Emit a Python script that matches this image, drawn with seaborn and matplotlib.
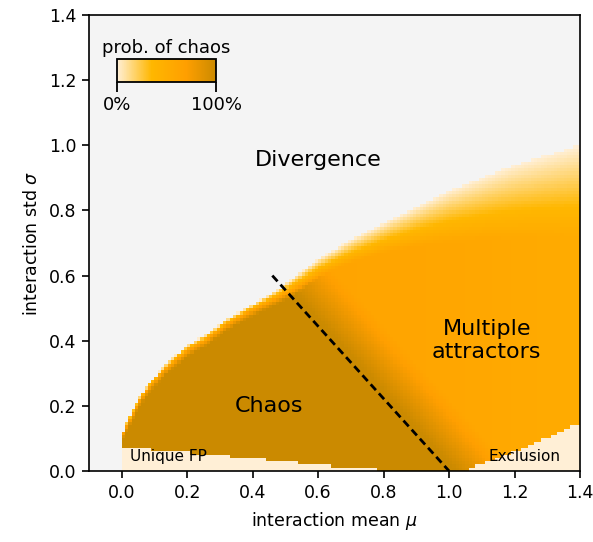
import numpy as np
import pandas as pd
import matplotlib
matplotlib.use("Agg")
import matplotlib.pyplot as plt
import seaborn as sns
from matplotlib.colors import LinearSegmentedColormap

# ---------------- data ----------------
MU_MIN, MU_MAX, SIG_MAX, STEP = -0.1, 1.4, 1.4, 0.01

# upper edge of the bounded (non-divergent) region: solid part and faint end
boundary_mu = [0.0, 0.005, 0.02, 0.05, 0.08, 0.14, 0.2, 0.26, 0.32, 0.38,
               0.45, 0.5, 0.6, 0.7, 0.8, 0.9, 1.0, 1.1, 1.2, 1.3, 1.4]
solid_top = [0.11, 0.12, 0.15, 0.21, 0.255, 0.32, 0.37, 0.405, 0.45, 0.485,
             0.52, 0.545, 0.60, 0.64, 0.67, 0.69, 0.70, 0.71, 0.715, 0.72, 0.72]
fade_top = [0.115, 0.125, 0.16, 0.22, 0.265, 0.335, 0.385, 0.42, 0.465, 0.50,
            0.54, 0.575, 0.65, 0.71, 0.76, 0.81, 0.86, 0.90, 0.94, 0.97, 1.0]

# unique fixed point strip (bottom left) and exclusion wedge (bottom right)
fp_mu = [0.0, 0.1, 0.2, 0.3, 0.4, 0.5, 0.6, 0.7, 0.8, 0.9, 1.0]
fp_top = [0.072, 0.064, 0.056, 0.048, 0.039, 0.029, 0.019, 0.009, 0.004, 0.0, 0.0]
excl_mu = [1.0, 1.05, 1.1, 1.2, 1.3, 1.4]
excl_top = [0.0, 0.003, 0.022, 0.058, 0.102, 0.147]

# chaos probability in the multiple-attractor region
level_mu = [0.0, 0.6, 1.0, 1.2, 1.4]
level_prob = [0.64, 0.63, 0.60, 0.56, 0.52]
chaos_prob = 1.0

# dashed separator
dash_mu = [0.46, 1.0]
dash_sigma = [0.6, 0.0]

x_tick_values = [0.0, 0.2, 0.4, 0.6, 0.8, 1.0, 1.2, 1.4]
y_tick_values = [0.0, 0.2, 0.4, 0.6, 0.8, 1.0, 1.2, 1.4]

labels = {
    "Divergence": (0.60, 0.955, 16),
    "Chaos": (0.45, 0.20, 16),
    "Multiple\nattractors": (1.115, 0.40, 16),
    "Unique FP": (0.143, 0.043, 11),
    "Exclusion": (1.231, 0.043, 11),
}

# ---------------- build grid ----------------
n_mu = int(round((MU_MAX - MU_MIN) / STEP))
n_sig = int(round(SIG_MAX / STEP))
mu_c = MU_MIN + STEP * (np.arange(n_mu) + 0.5)
sig_c = STEP * (np.arange(n_sig) + 0.5)
M, S = np.meshgrid(mu_c, sig_c)

st = np.interp(M, boundary_mu, solid_top)
ft = np.interp(M, boundary_mu, fade_top)
lev = np.interp(M, level_mu, level_prob)

slope = (dash_mu[0] - dash_mu[1]) / (dash_sigma[0] - dash_sigma[1])
x_dash = dash_mu[1] + (S - dash_sigma[1]) * slope
w = np.clip((M - x_dash - 0.02) / 0.18, 0, 1)
p = chaos_prob - (chaos_prob - lev) * w
fringe = lev + (chaos_prob - lev) * np.clip((st - S) / 0.02, 0, 1)
p = np.minimum(p, fringe)
ramp = np.clip((ft - S) / np.maximum(ft - st, 1e-6), 0, 1)
p = np.where(S > st, lev * ramp, p)
p = np.where(S > ft, np.nan, p)
p = np.where(M < 0, np.nan, p)
fp = np.interp(M, fp_mu, fp_top, right=0.0)
p = np.where((M >= 0) & (S < fp), 0.0, p)
ex = np.interp(M, excl_mu, excl_top, left=0.0)
p = np.where(S < ex, 0.0, p)

df = pd.DataFrame(p[::-1], index=np.round(sig_c[::-1], 3), columns=np.round(mu_c, 3))


def hx(m):
    return (np.asarray(m) - MU_MIN) / STEP


def hy(s):
    return (SIG_MAX - np.asarray(s)) / STEP


# ---------------- plot ----------------
cmap = LinearSegmentedColormap.from_list(
    "chaos", [(0.0, "#ffefd6"), (0.35, "#ffb700"), (0.7, "#ff9f00"), (1.0, "#cb8a00")])

fig = plt.figure(figsize=(5.93, 5.42), dpi=100)
ax = fig.add_axes([89 / 593, 71 / 542, 491 / 593, 456 / 542])
cax = fig.add_axes([117 / 593, 460 / 542, 99 / 593, 23 / 542])

sns.heatmap(df, ax=ax, cmap=cmap, vmin=0, vmax=1, cbar_ax=cax,
            cbar_kws=dict(orientation="horizontal", ticks=[0, 1]),
            xticklabels=False, yticklabels=False)
ax.set_facecolor("#f4f4f4")
ax.set_xlim(0, n_mu)
ax.set_ylim(n_sig, 0)

for s in ax.spines.values():
    s.set_visible(True)
    s.set_linewidth(1.2)
    s.set_color("black")

ax.set_xticks(hx(x_tick_values))
ax.set_xticklabels([f"{v:.1f}" for v in x_tick_values])
ax.set_yticks(hy(y_tick_values))
ax.set_yticklabels([f"{v:.1f}" for v in y_tick_values], rotation=0)
ax.tick_params(axis="both", direction="out", length=5, width=1.2, labelsize=12.5,
               colors="black", pad=4)
ax.set_xlabel(r"interaction mean $\mu$", fontsize=12.5, labelpad=6)
ax.set_ylabel(r"interaction std $\sigma$", fontsize=12.5, labelpad=6)

ax.plot(hx(dash_mu), hy(dash_sigma), color="black", lw=2.0,
        linestyle=(0, (2.8, 1.6)))

for txt, (mx, sy, fs) in labels.items():
    ax.text(hx(mx), hy(sy), txt, ha="center", va="center", fontsize=fs,
            color="black", multialignment="center")

cb = ax.collections[0].colorbar
cb.outline.set_linewidth(1.3)
cb.outline.set_edgecolor("black")
cax.set_xticklabels(["0%", "100%"])
cax.tick_params(axis="x", direction="out", length=7, width=1.3, labelsize=13, pad=3)
cax.set_title("prob. of chaos", fontsize=13, pad=4)

fig.savefig("out.png", dpi=100)
